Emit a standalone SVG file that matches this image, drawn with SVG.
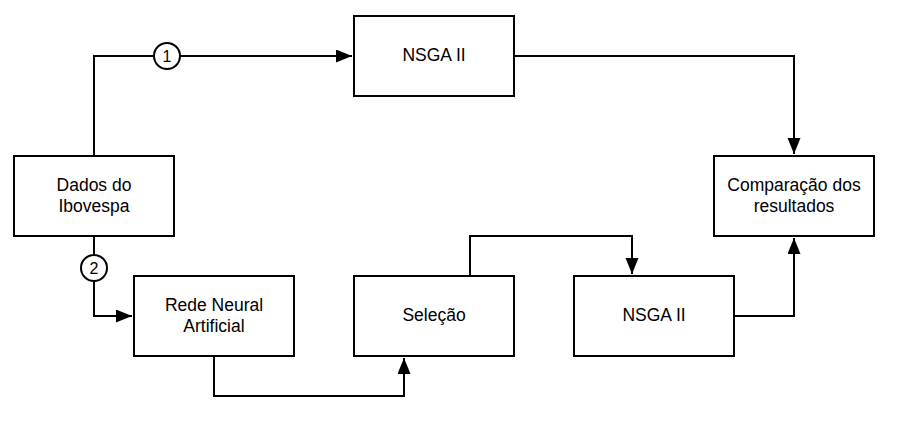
<svg xmlns="http://www.w3.org/2000/svg" width="905" height="431" viewBox="0 0 905 431">
<style>
.box{fill:#fff;stroke:#000;stroke-width:2}
.t{font-family:"Liberation Sans",Arial,sans-serif;font-size:17.5px;fill:#000;text-anchor:middle}
.c{font-family:"Liberation Sans",Arial,sans-serif;font-size:16px;fill:#000;text-anchor:middle}
.ln{fill:none;stroke:#000;stroke-width:2}
.circ{fill:#fff;stroke:#000;stroke-width:2}
</style>
<defs>
<marker id="ah" markerUnits="userSpaceOnUse" markerWidth="18" markerHeight="14" refX="16" refY="6.5" orient="auto">
<path d="M0,0 L16,6.5 L0,13 Z" fill="#000"/>
</marker>
</defs>
<rect width="905" height="431" fill="#fff"/>
<g id="connectors">
<path class="ln" d="M94,156 V56 H352" marker-end="url(#ah)"/>
<path class="ln" d="M94,236 V316 H132" marker-end="url(#ah)"/>
<path class="ln" d="M214,356 V396 H404 V358" marker-end="url(#ah)"/>
<path class="ln" d="M470,276 V236 H632 V274" marker-end="url(#ah)"/>
<path class="ln" d="M514,56 H794 V154" marker-end="url(#ah)"/>
<path class="ln" d="M734,316 H794 V238" marker-end="url(#ah)"/>
<g id="label1"><circle class="circ" cx="167" cy="56" r="13"/><text class="c" x="167" y="62">1</text></g>
<g id="label2"><circle class="circ" cx="94" cy="268" r="13"/><text class="c" x="94" y="274">2</text></g>
</g>
<g id="nsga1"><rect class="box" x="354" y="16" width="160" height="80"/><text class="t" x="434" y="61">NSGA II</text></g>
<g id="dados"><rect class="box" x="14" y="156" width="160" height="80"/><text class="t" x="94" y="191">Dados do</text><text class="t" x="94" y="212">Ibovespa</text></g>
<g id="rede"><rect class="box" x="134" y="276" width="160" height="80"/><text class="t" x="214" y="311">Rede Neural</text><text class="t" x="214" y="332">Artificial</text></g>
<g id="selecao"><rect class="box" x="354" y="276" width="160" height="80"/><text class="t" x="434" y="321">Seleção</text></g>
<g id="nsga2"><rect class="box" x="574" y="276" width="160" height="80"/><text class="t" x="654" y="321">NSGA II</text></g>
<g id="comparacao"><rect class="box" x="714" y="156" width="160" height="80"/><text class="t" x="794" y="191">Comparação dos</text><text class="t" x="794" y="212">resultados</text></g>
</svg>
